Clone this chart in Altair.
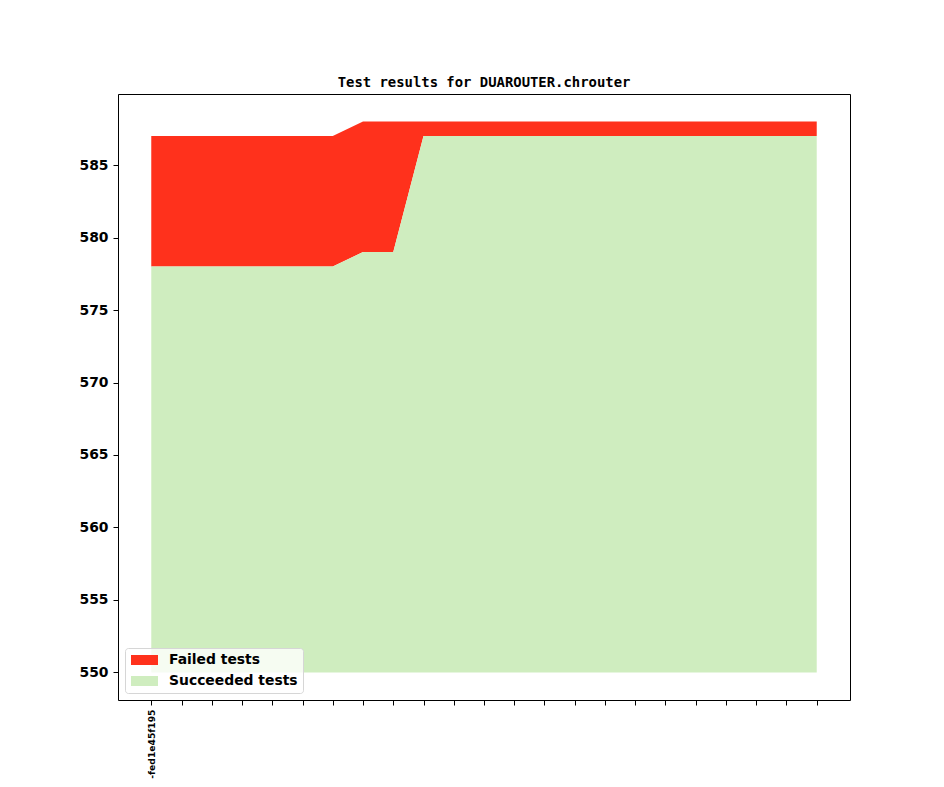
import json
import altair as alt
import pandas as pd

# ---- data ----
x_index = list(range(23))
succeeded = [578] * 7 + [579, 579] + [587] * 14
failed = [9] * 7 + [9, 9] + [1] * 14
tick_labels = ["-fed1e45f195"] + [""] * 22
baseline = 550
series_names = ["Failed tests", "Succeeded tests"]
series_colors = ["#ff311c", "#cfedbf"]
y_ticks = [550, 555, 560, 565, 570, 575, 580, 585]

rows = []
for i, s, f in zip(x_index, succeeded, failed):
    rows.append({"x": i, "series": "Failed tests", "top": s + f, "bottom": s})
    rows.append({"x": i, "series": "Succeeded tests", "top": s, "bottom": baseline})
df = pd.DataFrame(rows)

label_expr = json.dumps(tick_labels) + "[round(datum.value)]"

x_scale = alt.Scale(domain=[-1.1, 23.1], nice=False, zero=False)
y_scale = alt.Scale(domain=[548.1, 589.9], nice=False, zero=False)

areas = (
    alt.Chart(df)
    .mark_area(interpolate="linear", opacity=1)
    .encode(
        x=alt.X(
            "x:Q",
            scale=x_scale,
            axis=alt.Axis(
                values=x_index,
                labelExpr=label_expr,
                labelAngle=270,
                labelFont="DejaVu Sans",
                labelFontWeight="bold",
                labelFontSize=9.2,
                labelColor="black",
                labelPadding=4,
                tickSize=5,
                tickColor="black",
                domainColor="black",
                grid=False,
                title=None,
                labelOverlap=False,
            ),
        ),
        y=alt.Y(
            "top:Q",
            scale=y_scale,
            axis=alt.Axis(
                values=y_ticks,
                labelFont="DejaVu Sans",
                labelFontWeight="bold",
                labelFontSize=13.9,
                labelColor="black",
                labelPadding=5,
                tickSize=5,
                tickColor="black",
                domainColor="black",
                grid=False,
                title=None,
            ),
        ),
        y2="bottom:Q",
        color=alt.Color(
            "series:N",
            scale=alt.Scale(domain=series_names, range=series_colors),
            legend=alt.Legend(
                title=None,
                orient="bottom-left",
                offset=7,
                symbolType="M-0.857,-0.714H3V0.714H-0.857Z",
                symbolSize=196,
                symbolStrokeWidth=0,
                labelFont="DejaVu Sans",
                labelFontWeight="bold",
                labelFontSize=13.9,
                labelColor="black",
                labelOffset=25,
                rowPadding=7,
                padding=5,
                fillColor="rgba(255,255,255,0.8)",
                strokeColor="#d6d6d6",
                cornerRadius=3,
            ),
        ),
        order=alt.Order("series:N"),
    )
)

# invisible layer that only carries the top and right spines
frame = (
    alt.Chart(df)
    .mark_point(opacity=0)
    .encode(
        x=alt.X(
            "x:Q",
            scale=x_scale,
            axis=alt.Axis(orient="top", labels=False, ticks=False,
                          domainColor="black", grid=False, title=None),
        ),
        y=alt.Y(
            "top:Q",
            scale=y_scale,
            axis=alt.Axis(orient="right", labels=False, ticks=False,
                          domainColor="black", grid=False, title=None),
        ),
    )
)

chart = (
    alt.layer(areas, frame)
    .resolve_axis(x="independent", y="independent")
    .properties(
        width=732,
        height=606,
        title=alt.TitleParams(
            "Test results for DUAROUTER.chrouter",
            font="DejaVu Sans Mono",
            fontWeight="bold",
            fontSize=13.9,
            color="black",
            anchor="middle",
            offset=4,
        ),
        autosize=alt.AutoSizeParams(type="none"),
        padding={"left": 110, "top": 86, "right": 86, "bottom": 79},
    )
    .configure_view(stroke=None)
    .configure(background="white")
)

chart.save("out.html", embed_options={"renderer": "svg", "actions": False})
